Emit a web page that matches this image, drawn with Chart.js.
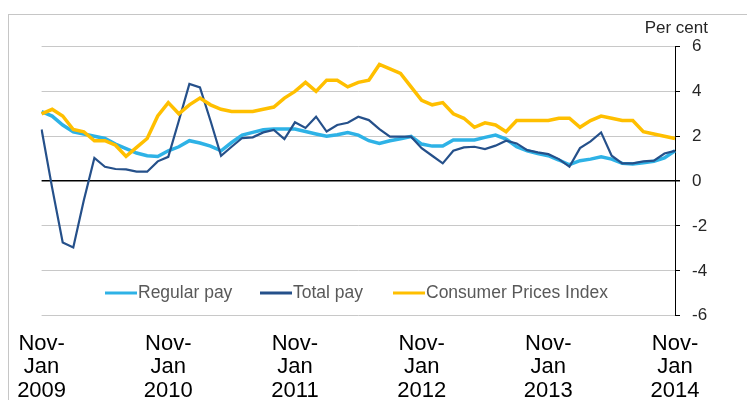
<!DOCTYPE html>
<html>
<head>
<meta charset="utf-8">
<script src="https://cdn.jsdelivr.net/npm/chart.js@4"></script>
<style>
  html, body { margin: 0; padding: 0; background: #fff; overflow: hidden; }
  #wrap { position: relative; width: 747px; height: 400px; }
  #frame { position: absolute; left: 8px; top: 14px; width: 800px; height: 420px; border: 1px solid #c6c6c6; box-sizing: border-box; }
  canvas { position: absolute; left: 0; top: 0; }
</style>
</head>
<body>
<div id="wrap">
  <div id="frame"></div>
  <canvas id="chart" width="747" height="400"></canvas>
</div>
<script>
// months from Nov-Jan 2009 to Nov-Jan 2014, one point a month
const years = ['2009', '2010', '2011', '2012', '2013', '2014'];
const months = [];
for (let i = 0; i <= 60; i++) months.push(i % 12 === 0 ? years[i / 12] : '');

const regularPay = [
  3.1, 2.9, 2.5, 2.2, 2.1, 2.0, 1.9, 1.65, 1.45, 1.25, 1.13, 1.1,
  1.35, 1.53, 1.8, 1.7, 1.56, 1.35, 1.72, 2.05, 2.17, 2.29, 2.32, 2.32,
  2.32, 2.21, 2.1, 2.0, 2.07, 2.16, 2.05, 1.8, 1.68, 1.8, 1.89, 1.99,
  1.65, 1.56, 1.56, 1.83, 1.83, 1.83, 1.95, 2.05, 1.87, 1.53, 1.35, 1.23,
  1.13, 0.94, 0.73, 0.91, 0.98, 1.08, 0.98, 0.79, 0.76, 0.82, 0.88, 1.03,
  1.35
];
const totalPay = [
  2.3, -0.3, -2.74, -2.96, -0.85, 1.03, 0.64, 0.54, 0.52, 0.42, 0.42, 0.88,
  1.08, 2.69, 4.33, 4.18, 2.69, 1.13, 1.53, 1.92, 1.95, 2.17, 2.28, 1.87,
  2.62, 2.37, 2.87, 2.21, 2.5, 2.6, 2.87, 2.72, 2.32, 1.98, 1.98, 1.98,
  1.47, 1.13, 0.79, 1.35, 1.5, 1.53, 1.43, 1.58, 1.8, 1.68, 1.38, 1.28,
  1.2, 0.98, 0.64, 1.47, 1.77, 2.17, 1.13, 0.79, 0.79, 0.88, 0.91, 1.23,
  1.35
];
const cpi = [
  3.0, 3.2, 2.9, 2.3, 2.2, 1.8, 1.8, 1.6, 1.1, 1.5, 1.9, 2.9,
  3.5, 3.0, 3.4, 3.7, 3.4, 3.2, 3.1, 3.1, 3.1, 3.2, 3.3, 3.7,
  4.0, 4.4, 4.0, 4.5, 4.5, 4.2, 4.4, 4.5, 5.2, 5.0, 4.8, 4.2,
  3.6, 3.4, 3.5, 3.0, 2.8, 2.4, 2.6, 2.5, 2.2, 2.7, 2.7, 2.7,
  2.7, 2.8, 2.8, 2.4, 2.7, 2.9, 2.8, 2.7, 2.7, 2.2, 2.1, 2.0,
  1.9
];

const FONT = "'Liberation Sans', Arial, sans-serif";

// legend drawn inside the plot, plus the "Per cent" caption
const extras = {
  id: 'extras',
  afterDraw(chart) {
    const ctx = chart.ctx;
    ctx.save();
    ctx.font = '17px ' + FONT;
    ctx.fillStyle = '#262626';
    ctx.textAlign = 'right';
    ctx.textBaseline = 'alphabetic';
    ctx.fillText('Per cent', 708, 33);

    const items = [
      { ds: 0, x: 105 },
      { ds: 1, x: 260 },
      { ds: 2, x: 393 }
    ];
    const y = 293;
    ctx.font = '17.5px ' + FONT;
    ctx.textAlign = 'left';
    ctx.textBaseline = 'middle';
    items.forEach(it => {
      const ds = chart.data.datasets[it.ds];
      ctx.strokeStyle = ds.borderColor;
      ctx.lineWidth = 3;
      ctx.beginPath();
      ctx.moveTo(it.x, y);
      ctx.lineTo(it.x + 32, y);
      ctx.stroke();
      ctx.fillStyle = '#595959';
      ctx.fillText(ds.label, it.x + 33, y);
    });
    ctx.restore();
  }
};

new Chart(document.getElementById('chart'), {
  type: 'line',
  data: {
    labels: months,
    datasets: [
      { label: 'Regular pay', data: regularPay, borderColor: '#2EB2E6', borderWidth: 3.5, order: 2 },
      { label: 'Total pay', data: totalPay, borderColor: '#25508A', borderWidth: 2.2, order: 1 },
      { label: 'Consumer Prices Index', data: cpi, borderColor: '#FFBF00', borderWidth: 3.5, order: 0 }
    ]
  },
  options: {
    responsive: false,
    animation: false,
    layout: { padding: { left: 41.6, top: 46.5, right: 0, bottom: 0 } },
    elements: { point: { radius: 0 }, line: { tension: 0 } },
    plugins: { legend: { display: false }, tooltip: { enabled: false } },
    scales: {
      x: {
        offset: false,
        grid: { display: false, drawTicks: false },
        border: { display: false },
        afterFit(scale) { scale.height = 84.3; },
        ticks: {
          autoSkip: false,
          maxRotation: 0,
          padding: 16,
          color: '#000',
          font: { family: FONT, size: 22, lineHeight: 1.07 },
          callback(v, i) {
            const y = this.getLabelForValue(v);
            return y ? ['Nov-', 'Jan', y] : '';
          }
        }
      },
      y: {
        position: 'right',
        min: -6,
        max: 6,
        afterFit(scale) { scale.width = 72; },
        border: { display: true, color: '#000', width: 1 },
        grid: {
          color: c => (c.tick && c.tick.value === 0 ? '#000' : '#c8c8c8'),
          lineWidth: c => (c.tick && c.tick.value === 0 ? 1.5 : 1),
          tickColor: '#000',
          tickLength: 5,
          drawTicks: true
        },
        ticks: {
          stepSize: 2,
          padding: 12,
          color: '#262626',
          font: { family: FONT, size: 17 }
        }
      }
    }
  },
  plugins: [extras]
});
</script>
</body>
</html>
